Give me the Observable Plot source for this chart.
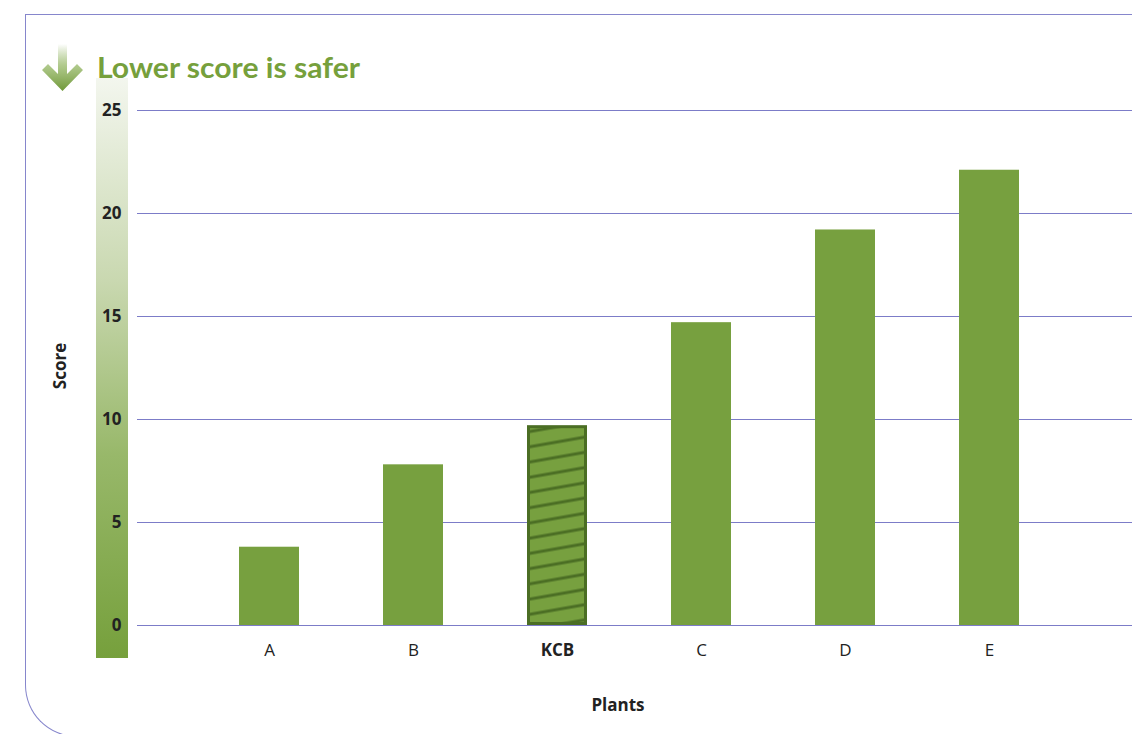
<!DOCTYPE html>
<html>
<head>
<meta charset="utf-8">
<script src="https://cdn.jsdelivr.net/npm/d3@7"></script>
<script src="https://cdn.jsdelivr.net/npm/@observablehq/plot@0.6"></script>
<style>
  html, body { margin: 0; padding: 0; background: #fff; }
  #wrap { position: relative; width: 1132px; height: 734px; overflow: hidden; font-family: "Open Sans", Lato, sans-serif; }
  #frame { position: absolute; left: 25px; top: 14px; width: 1200px; height: 723px;
           border-left: 1.5px solid #8686cc; border-top: 1.5px solid #8686cc; border-bottom: 1.5px solid #8686cc;
           border-bottom-left-radius: 52px; box-sizing: border-box; }
  #scale-bar { position: absolute; left: 96px; top: 78px; width: 32px; height: 580px;
               background: linear-gradient(to bottom, #f3f6ee 0%, #c9d8b0 35%, #98b86a 65%, #76a03c 100%); }
  #head { position: absolute; left: 0; top: 0; }
  #chart { position: absolute; left: 0; top: 0; }
</style>
</head>
<body>
<div id="wrap">
  <div id="frame"></div>
  <div id="scale-bar"></div>
  <svg id="head" width="420" height="100">
    <defs>
      <linearGradient id="arrow-grad" x1="0" y1="0" x2="0" y2="1">
        <stop offset="0" stop-color="#76a03c" stop-opacity="0"/>
        <stop offset="0.45" stop-color="#8fb35c" stop-opacity="0.7"/>
        <stop offset="1" stop-color="#6f9838"/>
      </linearGradient>
    </defs>
    <path d="M58,44 L67,44 L67,74 L77,64 L83,70 L62.5,91 L42,70 L48,64 L58,74 Z" fill="url(#arrow-grad)"/>
    <text x="97" y="78" font-family="Lato, 'Open Sans', sans-serif" font-weight="bold" font-size="28"
          fill="#76a03c" textLength="263" lengthAdjust="spacingAndGlyphs">Lower score is safer</text>
  </svg>
  <div id="chart"></div>
</div>
<script>
// Plant scores (lower is safer)
const plants = ["A", "B", "KCB", "C", "D", "E"];
const scores = [3.8, 7.8, 9.7, 14.7, 19.2, 22.1];
const yTicks = [0, 5, 10, 15, 20, 25];
const highlight = "KCB";

const rows = plants.map((p, i) => ({plant: p, score: scores[i]}));
const barGreen = "#77a03f";
const darkGreen = "#4b6e24";
const gridColor = "#7c7cc8";
const ink = "#222";
const labelSize = 17;

// Hatch pattern for the highlighted bar
const hatchDefs = () => {
  const defs = d3.create("svg:defs");
  const pat = defs.append("pattern")
    .attr("id", "kcb-hatch")
    .attr("patternUnits", "userSpaceOnUse")
    .attr("width", 12).attr("height", 15)
    .attr("patternTransform", "rotate(-10)");
  pat.append("rect").attr("width", 12).attr("height", 15).attr("fill", barGreen);
  pat.append("line").attr("x1", 0).attr("x2", 12).attr("y1", 7).attr("y2", 7)
    .attr("stroke", darkGreen).attr("stroke-width", 3);
  return defs.node();
};

const chart = Plot.plot({
  width: 1132,
  height: 734,
  marginLeft: 137,
  marginRight: 0,
  marginTop: 110,
  marginBottom: 109,
  style: {background: "transparent", fontFamily: "'Open Sans', Lato, sans-serif"},
  x: {domain: plants, range: [137, 1122], paddingInner: 0.58, paddingOuter: 0.7, label: null},
  y: {domain: [0, 25], label: null},
  marks: [
    hatchDefs,
    Plot.ruleY(yTicks, {stroke: gridColor, strokeWidth: 1.2}),
    Plot.barY(rows.filter(d => d.plant !== highlight), {x: "plant", y: "score", fill: barGreen}),
    Plot.barY(rows.filter(d => d.plant === highlight), {x: "plant", y: "score", fill: "url(#kcb-hatch)", stroke: darkGreen, strokeWidth: 3, inset: 1.5}),
    Plot.axisY({ticks: yTicks, tickSize: 0, tickPadding: 16, fontSize: labelSize, fontWeight: "bold", fill: ink, label: null}),
    Plot.axisX({ticks: plants.filter(p => p !== highlight), tickSize: 0, tickPadding: 18, fontSize: labelSize, fill: ink, label: null}),
    Plot.axisX({ticks: [highlight], tickSize: 0, tickPadding: 18, fontSize: labelSize, fontWeight: "bold", fill: ink, label: null}),
    Plot.text(["Score"], {frameAnchor: "left", textAnchor: "middle", dx: -77, dy: -2, rotate: -90, fontSize: labelSize, fontWeight: "bold", fill: ink}),
    Plot.text(["Plants"], {frameAnchor: "bottom", dx: -17, dy: 85, fontSize: labelSize, fontWeight: "bold", fill: ink})
  ]
});
document.getElementById("chart").appendChild(chart);
</script>
</body>
</html>
